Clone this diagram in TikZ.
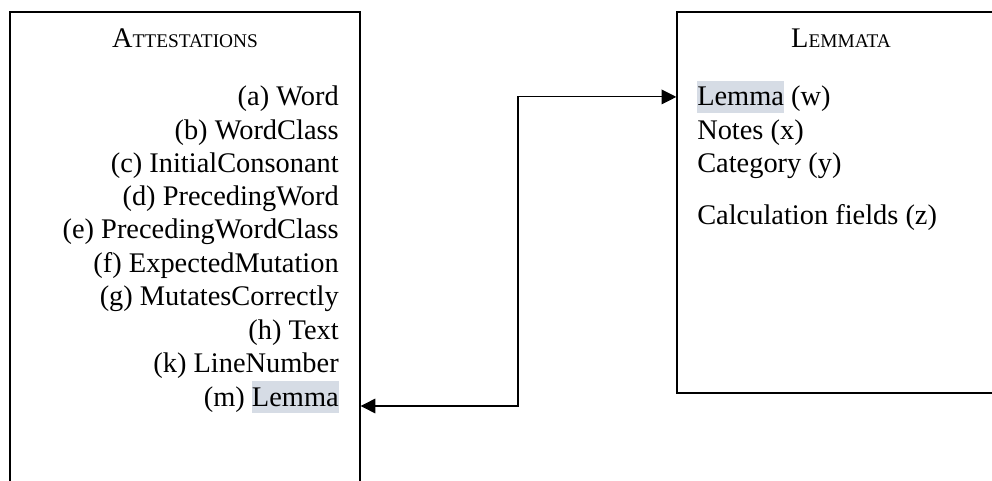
\documentclass[tikz,border=0pt]{standalone}
\usepackage{fontspec}
\setmainfont{Liberation Serif}
\usetikzlibrary{arrows.meta}
\definecolor{hlc}{HTML}{D6DCE5}
\newcommand\hlword[1]{{\setlength\fboxsep{0pt}\colorbox{hlc}{\rule[-5.2pt]{0pt}{24pt}#1}}}
\newcommand\smallcapsz{\fontsize{14.5}{18}\selectfont}
\tikzset{
  box/.style={draw, line width=1pt, inner sep=0pt},
  lbl/.style={inner sep=0pt, font=\fontsize{21.3}{25}\selectfont},
  conn/.style={line width=0.8pt, {Triangle[length=11pt,width=11pt]}-{Triangle[length=11pt,width=11pt]}}
}
\begin{document}
\begin{tikzpicture}[x=0.75pt,y=-0.75pt]
\useasboundingbox (0,0) rectangle (992,481);
\clip (0,0) rectangle (992,481);
% boxes
\node[box, minimum width=262.5pt, minimum height=396pt] (att) at (185,276) {};
\node[box, minimum width=246pt, minimum height=285.75pt] (lem) at (841,202.5) {};
% titles
\node[lbl, anchor=base] (tatt) at (185,48) {A{\smallcapsz TTESTATIONS}};
\node[lbl, anchor=base] (tlem) at (841,48) {L{\smallcapsz EMMATA}};
% attestation fields
\node[lbl, anchor=base east] (fa) at (339,106.0) {(a) Word};
\node[lbl, anchor=base east] (fb) at (339,139.3) {(b) WordClass};
\node[lbl, anchor=base east] (fc) at (339,172.7) {(c) InitialConsonant};
\node[lbl, anchor=base east] (fd) at (339,205.0) {(d) PrecedingWord};
\node[lbl, anchor=base east] (fe) at (339,238.5) {(e) PrecedingWordClass};
\node[lbl, anchor=base east] (ff) at (339,272.2) {(f) ExpectedMutation};
\node[lbl, anchor=base east] (fg) at (339,305.5) {(g) MutatesCorrectly};
\node[lbl, anchor=base east] (fh) at (339,339.0) {(h) Text};
\node[lbl, anchor=base east] (fk) at (339,372.5) {(k) LineNumber};
\node[lbl, anchor=base east] (fm) at (339,406.0) {(m) \hlword{Lemma}};
% lemmata fields
\node[lbl, anchor=base west] (lw) at (697,106.0) {\hlword{Lemma} (w)};
\node[lbl, anchor=base west] (lx) at (697,139.3) {Notes (x)};
\node[lbl, anchor=base west] (ly) at (697,172.7) {Category (y)};
\node[lbl, anchor=base west] (lz) at (697,224.0) {Calculation fields (z)};
% connector
\coordinate (jog) at (518,250);
\draw[conn] (att.east |- fm.base) -| (jog) |- (lem.west |- lw.center);
\end{tikzpicture}
\end{document}
